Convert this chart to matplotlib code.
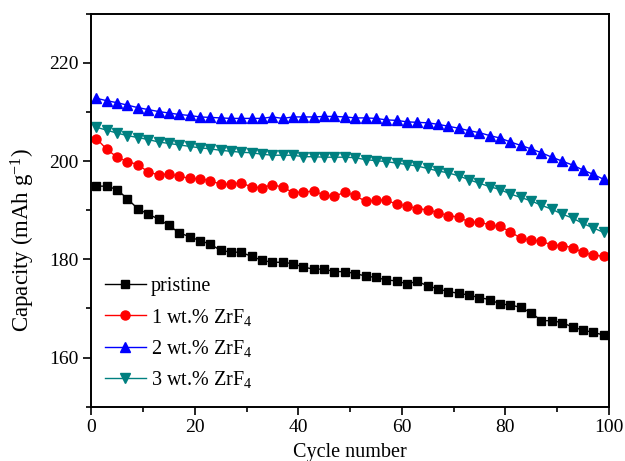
import matplotlib
matplotlib.use("Agg")
import matplotlib.pyplot as plt
import numpy as np

# cycle numbers, one point every second cycle
cycles = np.arange(1, 100, 2)

pristine = [194.9, 194.9, 194.2, 192.3, 190.3, 189.2, 188.2, 186.9, 185.4, 184.6,
            183.8, 183.1, 181.8, 181.5, 181.4, 180.6, 179.8, 179.4, 179.4, 179.1,
            178.4, 178.0, 178.0, 177.5, 177.5, 177.1, 176.6, 176.3, 175.8, 175.6,
            175.0, 175.5, 174.6, 174.0, 173.4, 173.1, 172.7, 172.2, 171.8, 170.9,
            170.7, 170.2, 169.1, 167.5, 167.5, 167.1, 166.2, 165.6, 165.1, 164.6]

zrf4_1 = [204.6, 202.4, 200.8, 199.9, 199.3, 197.8, 197.2, 197.4, 196.9, 196.5,
          196.4, 196.0, 195.3, 195.3, 195.6, 194.7, 194.6, 195.2, 194.7, 193.6,
          193.7, 193.9, 193.1, 192.8, 193.7, 193.0, 191.8, 192.0, 192.1, 191.2,
          190.9, 190.3, 190.1, 189.5, 188.9, 188.6, 187.6, 187.6, 187.0, 186.7,
          185.6, 184.3, 183.9, 183.7, 182.9, 182.8, 182.4, 181.4, 180.9, 180.6]

zrf4_2 = [212.8, 212.3, 211.9, 211.4, 210.9, 210.5, 210.1, 209.8, 209.5, 209.3,
          209.0, 208.9, 208.8, 208.7, 208.7, 208.7, 208.7, 209.0, 208.7, 209.0,
          209.0, 209.0, 209.1, 209.1, 209.0, 208.8, 208.8, 208.7, 208.4, 208.3,
          208.0, 207.9, 207.8, 207.5, 207.1, 206.7, 206.2, 205.8, 205.2, 204.7,
          203.9, 203.2, 202.5, 201.7, 200.8, 200.0, 199.2, 198.2, 197.3, 196.3]

zrf4_3 = [206.9, 206.3, 205.7, 205.2, 204.8, 204.4, 203.9, 203.6, 203.3, 203.0,
          202.7, 202.5, 202.2, 202.0, 201.8, 201.7, 201.4, 201.2, 201.2, 201.2,
          200.9, 200.9, 200.8, 200.8, 200.8, 200.7, 200.3, 200.1, 199.9, 199.6,
          199.3, 199.0, 198.5, 198.0, 197.6, 197.0, 196.2, 195.5, 194.8, 194.2,
          193.3, 192.6, 191.9, 191.0, 190.2, 189.2, 188.4, 187.3, 186.4, 185.5]

labels = ['pristine', '1 wt.% ZrF$_4$', '2 wt.% ZrF$_4$', '3 wt.% ZrF$_4$']

plt.rcParams['font.family'] = ['Liberation Serif', 'DejaVu Serif']
plt.rcParams['mathtext.fontset'] = 'custom'
plt.rcParams['mathtext.rm'] = 'Liberation Serif'
plt.rcParams['mathtext.it'] = 'Liberation Serif:italic'

fig = plt.figure(figsize=(6.25, 4.61), dpi=100)
ax = fig.add_axes([0.146, 0.118, 0.828, 0.852])

ax.plot(cycles, pristine, color='black', marker='s', ms=6, lw=1, label=labels[0])
ax.plot(cycles, zrf4_1, color='red', marker='o', ms=6.5, lw=1, label=labels[1])
ax.plot(cycles, zrf4_2, color='blue', marker='^', ms=7, lw=1, label=labels[2])
ax.plot(cycles, zrf4_3, color='#008080', marker='v', ms=7, lw=1, label=labels[3])

ax.set_xlim(0, 100)
ax.set_ylim(150, 230)
ax.set_xticks([0, 20, 40, 60, 80, 100])
ax.set_xticks(np.arange(10, 100, 20), minor=True)
ax.set_yticks([160, 180, 200, 220])
ax.set_yticks([150, 170, 190, 210, 230], minor=True)
ax.tick_params(which='major', direction='out', length=5.5, width=1.2, labelsize=14)
ax.tick_params(which='minor', direction='out', length=3.5, width=1.2)
for s in ax.spines.values():
    s.set_linewidth(1.4)

ax.set_xlabel('Cycle number', fontsize=14.5, labelpad=5)
ax.set_ylabel('Capacity (mAh g$^{-1}$)', fontsize=16.5)
ax.yaxis.set_label_coords(-0.104, 0.425)

ax.legend(loc='upper left', bbox_to_anchor=(0.0, 0.365), frameon=False, fontsize=14.5,
          handlelength=2.0, handletextpad=0.25, labelspacing=0.5, borderaxespad=0.3)

fig.savefig('out.png', dpi=100)
